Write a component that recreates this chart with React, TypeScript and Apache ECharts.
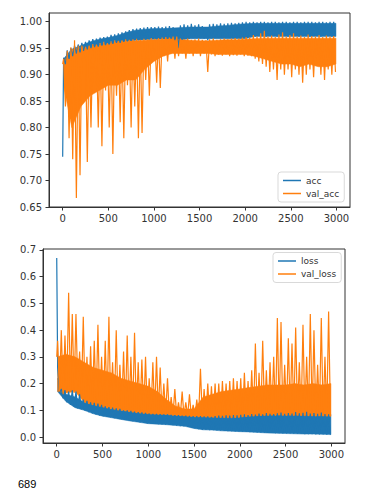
import React, { useEffect, useRef } from "react";
import * as echarts from "echarts";

// Epoch layout of the read samples: a peak at 40k+10 and a trough at 40k+30
const BIN = 40;
const xTicks = [0, 500, 1000, 1500, 2000, 2500, 3000];
const accTicks = [0.65, 0.7, 0.75, 0.8, 0.85, 0.9, 0.95, 1.0];
const lossTicks = [0, 0.1, 0.2, 0.3, 0.4, 0.5, 0.6, 0.7];
const footnote = "689";

// epochs at which the solid core of each noisy band was read
const coreEpochs = [
  10, 100, 200, 300, 400, 500, 600, 700, 800, 900,
  1000, 1100, 1200, 1300, 1400, 1500, 1600, 1700, 1800, 1900,
  2000, 2100, 2200, 2300, 2400, 2500, 2600, 2700, 2800, 2900, 2995,
];

// values at epoch 0
const accStart = 0.745;
const valAccStart = 0.92;
const lossStart = 0.67;
const valLossStart = 0.3;

// upper / lower excursions, one pair per 40-epoch bin
const accHi = [
  0.932, 0.946, 0.95, 0.955, 0.957, 0.96, 0.962, 0.965, 0.967, 0.968,
  0.97, 0.971, 0.972, 0.975, 0.976, 0.978, 0.98, 0.982, 0.984, 0.986,
  0.987, 0.988, 0.989, 0.99, 0.99, 0.99, 0.991, 0.99, 0.991, 0.992,
  0.99, 0.985, 0.993, 0.995, 0.993, 0.996, 0.993, 0.995, 0.992, 0.99,
  0.995, 0.996, 0.995, 0.997, 0.996, 0.997, 0.998, 0.997, 0.998, 0.999,
  1.0, 0.999, 1.0, 0.999, 1.0, 1.0, 0.999, 1.0, 1.0, 0.999,
  1.0, 1.0, 0.999, 1.0, 1.0, 0.999, 1.0, 1.0, 1.0, 0.999,
  1.0, 1.0, 0.999, 1.0, 1.0,
];
const accLo = [
  0.92, 0.93, 0.935, 0.94, 0.942, 0.945, 0.948, 0.95, 0.952, 0.953,
  0.955, 0.956, 0.957, 0.958, 0.96, 0.96, 0.962, 0.963, 0.964, 0.965,
  0.965, 0.966, 0.966, 0.967, 0.967, 0.967, 0.968, 0.968, 0.968, 0.968,
  0.965, 0.95, 0.966, 0.968, 0.968, 0.969, 0.969, 0.969, 0.968, 0.965,
  0.969, 0.97, 0.97, 0.97, 0.971, 0.971, 0.971, 0.972, 0.972, 0.972,
  0.972, 0.973, 0.972, 0.974, 0.973, 0.972, 0.974, 0.973, 0.972, 0.974,
  0.973, 0.972, 0.974, 0.973, 0.972, 0.974, 0.973, 0.972, 0.974, 0.973,
  0.972, 0.974, 0.973, 0.972, 0.974,
];
const valAccHi = [
  0.93, 0.945, 0.952, 0.965, 0.955, 0.955, 0.95, 0.955, 0.958, 0.957,
  0.96, 0.962, 0.96, 0.963, 0.965, 0.964, 0.965, 0.967, 0.966, 0.967,
  0.968, 0.966, 0.968, 0.967, 0.969, 0.968, 0.969, 0.97, 0.971, 0.97,
  0.972, 0.972, 0.968, 0.967, 0.968, 0.966, 0.967, 0.968, 0.966, 0.965,
  0.967, 0.968, 0.966, 0.967, 0.968, 0.967, 0.968, 0.969, 0.968, 0.97,
  0.971, 0.97, 0.975, 0.972, 0.978, 0.983, 0.972, 0.974, 0.971, 0.976,
  0.98, 0.972, 0.975, 0.978, 0.972, 0.974, 0.971, 0.976, 0.973, 0.972,
  0.975, 0.971, 0.974, 0.972, 0.973,
];
const valAccLo = [
  0.84, 0.78, 0.74, 0.667, 0.71, 0.93, 0.735, 0.8, 0.88, 0.8,
  0.765, 0.87, 0.8, 0.75, 0.86, 0.81, 0.78, 0.88, 0.8, 0.84,
  0.78, 0.79, 0.89, 0.86, 0.93, 0.885, 0.875, 0.935, 0.925, 0.94,
  0.93, 0.935, 0.94, 0.93, 0.94, 0.935, 0.94, 0.935, 0.94, 0.905,
  0.938, 0.935, 0.938, 0.936, 0.938, 0.935, 0.937, 0.936, 0.938, 0.935,
  0.936, 0.935, 0.93, 0.925, 0.92, 0.915, 0.905, 0.91, 0.89, 0.91,
  0.9, 0.91, 0.895, 0.91, 0.9, 0.885, 0.9, 0.91, 0.895, 0.92,
  0.9, 0.89, 0.91, 0.9, 0.905,
];
const lossHi = [
  0.26, 0.18, 0.175, 0.17, 0.175, 0.17, 0.16, 0.14, 0.135, 0.13,
  0.128, 0.125, 0.12, 0.115, 0.112, 0.11, 0.107, 0.105, 0.1, 0.1,
  0.098, 0.095, 0.093, 0.092, 0.09, 0.088, 0.087, 0.087, 0.086, 0.085,
  0.085, 0.083, 0.082, 0.082, 0.08, 0.08, 0.079, 0.078, 0.078, 0.078,
  0.077, 0.077, 0.076, 0.078, 0.08, 0.079, 0.081, 0.08, 0.082, 0.081,
  0.083, 0.085, 0.082, 0.086, 0.084, 0.088, 0.085, 0.09, 0.087, 0.086,
  0.089, 0.092, 0.087, 0.09, 0.088, 0.093, 0.089, 0.091, 0.094, 0.088,
  0.09, 0.087, 0.092, 0.086, 0.085,
];
const lossLo = [
  0.165, 0.145, 0.13, 0.12, 0.113, 0.107, 0.103, 0.098, 0.093, 0.088,
  0.084, 0.08, 0.078, 0.075, 0.073, 0.071, 0.069, 0.067, 0.064, 0.062,
  0.059, 0.057, 0.055, 0.053, 0.051, 0.05, 0.049, 0.048, 0.047, 0.046,
  0.045, 0.044, 0.043, 0.041, 0.04, 0.038, 0.035, 0.032, 0.029, 0.027,
  0.027, 0.026, 0.026, 0.025, 0.024, 0.023, 0.022, 0.022, 0.021, 0.021,
  0.02, 0.019, 0.018, 0.018, 0.017, 0.016, 0.016, 0.015, 0.015, 0.014,
  0.014, 0.013, 0.013, 0.013, 0.012, 0.012, 0.012, 0.011, 0.011, 0.011,
  0.01, 0.01, 0.01, 0.009, 0.009,
];
const valLossHi = [
  0.36, 0.4, 0.38, 0.54, 0.46, 0.46, 0.32, 0.45, 0.3, 0.34,
  0.36, 0.42, 0.3, 0.36, 0.45, 0.28, 0.4, 0.27, 0.32, 0.38,
  0.3, 0.39, 0.28, 0.29, 0.3, 0.22, 0.28, 0.3, 0.26, 0.2,
  0.22, 0.15, 0.18, 0.13, 0.17, 0.13, 0.16, 0.12, 0.14, 0.255,
  0.18, 0.2, 0.19, 0.2, 0.2, 0.21, 0.2, 0.21, 0.22, 0.21,
  0.22, 0.24, 0.21, 0.25, 0.35, 0.24, 0.36, 0.25, 0.28, 0.3,
  0.445, 0.43, 0.27, 0.37, 0.35, 0.41, 0.28, 0.42, 0.3, 0.46,
  0.4, 0.27, 0.445, 0.3, 0.47,
];
const valLossLo = [
  0.17, 0.16, 0.17, 0.17, 0.165, 0.18, 0.15, 0.13, 0.125, 0.12,
  0.118, 0.115, 0.112, 0.11, 0.105, 0.105, 0.1, 0.1, 0.097, 0.095,
  0.093, 0.09, 0.09, 0.088, 0.087, 0.085, 0.085, 0.084, 0.084, 0.083,
  0.083, 0.08, 0.08, 0.079, 0.079, 0.078, 0.077, 0.076, 0.075, 0.075,
  0.075, 0.074, 0.074, 0.073, 0.073, 0.073, 0.072, 0.072, 0.072, 0.073,
  0.075, 0.076, 0.078, 0.078, 0.08, 0.08, 0.081, 0.08, 0.082, 0.08,
  0.083, 0.081, 0.08, 0.082, 0.08, 0.083, 0.08, 0.082, 0.079, 0.08,
  0.078, 0.08, 0.079, 0.08, 0.078,
];

// solid core of each band (densely overlapping epochs), read at coreEpochs
const accCoreHi = [
  0.93, 0.948, 0.955, 0.962, 0.967, 0.97, 0.974, 0.98, 0.984, 0.986,
  0.987, 0.987, 0.988, 0.989, 0.99, 0.99, 0.99, 0.992, 0.993, 0.995,
  0.996, 0.997, 0.997, 0.997, 0.997, 0.997, 0.997, 0.997, 0.997, 0.997, 0.997,
];
const accCoreLo = [
  0.92, 0.935, 0.942, 0.95, 0.955, 0.957, 0.96, 0.963, 0.965, 0.966,
  0.967, 0.967, 0.967, 0.966, 0.968, 0.968, 0.968, 0.968, 0.968, 0.968,
  0.968, 0.972, 0.972, 0.972, 0.972, 0.972, 0.972, 0.972, 0.972, 0.972, 0.972,
];
const valAccCoreHi = [
  0.925, 0.948, 0.952, 0.953, 0.955, 0.958, 0.962, 0.963, 0.964, 0.965,
  0.966, 0.967, 0.968, 0.966, 0.965, 0.964, 0.964, 0.965, 0.966, 0.966,
  0.967, 0.968, 0.969, 0.969, 0.969, 0.969, 0.969, 0.969, 0.969, 0.969, 0.969,
];
const valAccCoreLo = [
  0.88, 0.8, 0.84, 0.86, 0.87, 0.88, 0.88, 0.89, 0.89, 0.91,
  0.925, 0.935, 0.94, 0.94, 0.94, 0.94, 0.94, 0.938, 0.938, 0.938,
  0.938, 0.935, 0.93, 0.925, 0.92, 0.92, 0.915, 0.92, 0.915, 0.915, 0.92,
];
const lossCoreHi = [
  0.22, 0.16, 0.15, 0.13, 0.125, 0.115, 0.108, 0.1, 0.097, 0.093,
  0.09, 0.087, 0.085, 0.083, 0.08, 0.078, 0.077, 0.077, 0.078, 0.079,
  0.08, 0.082, 0.084, 0.085, 0.086, 0.087, 0.087, 0.087, 0.087, 0.086, 0.085,
];
const lossCoreLo = [
  0.17, 0.133, 0.11, 0.1, 0.087, 0.078, 0.072, 0.066, 0.06, 0.055,
  0.05, 0.048, 0.046, 0.043, 0.04, 0.032, 0.027, 0.026, 0.023, 0.022,
  0.02, 0.019, 0.017, 0.015, 0.014, 0.013, 0.012, 0.011, 0.011, 0.01, 0.009,
];
const valLossCoreHi = [
  0.3, 0.31, 0.3, 0.28, 0.26, 0.25, 0.24, 0.22, 0.21, 0.2,
  0.19, 0.17, 0.14, 0.115, 0.105, 0.105, 0.15, 0.16, 0.17, 0.175,
  0.18, 0.185, 0.19, 0.195, 0.195, 0.195, 0.2, 0.195, 0.2, 0.195, 0.2,
];
const valLossCoreLo = [
  0.17, 0.165, 0.17, 0.13, 0.12, 0.112, 0.105, 0.1, 0.095, 0.09,
  0.087, 0.085, 0.084, 0.081, 0.079, 0.076, 0.075, 0.074, 0.073, 0.072,
  0.074, 0.078, 0.08, 0.081, 0.082, 0.081, 0.081, 0.08, 0.079, 0.079, 0.078,
];

const BLUE = "#1f77b4";
const ORANGE = "#ff7f0e";
const AXIS = "#333333";
const FONT = "DejaVu Sans";

function build(start: number, hi: number[], lo: number[]) {
  const out: number[][] = [[0, start]];
  hi.forEach((h, k) => {
    out.push([k * BIN + 10, h]);
    out.push([k * BIN + 30, lo[k]]);
  });
  return out;
}

function xAxisFor(gridIndex: number) {
  return {
    type: "value",
    gridIndex,
    min: -150,
    max: 3149,
    splitLine: { show: false },
    axisLine: { show: true, onZero: false, lineStyle: { color: AXIS, width: 1 } },
    axisTick: { show: true, length: 3.5, customValues: xTicks, lineStyle: { color: AXIS } },
    axisLabel: {
      customValues: xTicks,
      margin: 6,
      fontSize: 10,
      fontFamily: FONT,
      color: AXIS,
      formatter: (v: number) => String(v),
    },
  };
}

function yAxisFor(gridIndex: number, min: number, max: number, ticks: number[], digits: number) {
  return {
    type: "value",
    gridIndex,
    min,
    max,
    splitLine: { show: false },
    axisLine: { show: true, onZero: false, lineStyle: { color: AXIS, width: 1 } },
    axisTick: { show: true, length: 3.5, customValues: ticks, lineStyle: { color: AXIS } },
    axisLabel: {
      customValues: ticks,
      margin: 7,
      fontSize: 10,
      fontFamily: FONT,
      color: AXIS,
      formatter: (v: number) => v.toFixed(digits),
    },
  };
}

function lineSeries(name: string, color: string, idx: number, data: number[][]) {
  return {
    name,
    type: "line",
    xAxisIndex: idx,
    yAxisIndex: idx,
    data,
    showSymbol: false,
    symbol: "none",
    lineStyle: { color, width: 1.2 },
    itemStyle: { color },
    emphasis: { disabled: true },
    silent: true,
  };
}

// filled core of a noisy band, placed through the axes with api.coord
function bandSeries(name: string, color: string, idx: number, hi: number[], lo: number[]) {
  const rows = coreEpochs.map((e, i) => [e, lo[i], hi[i]]);
  return {
    name,
    type: "custom",
    xAxisIndex: idx,
    yAxisIndex: idx,
    coordinateSystem: "cartesian2d",
    silent: true,
    data: rows,
    encode: { x: 0, y: [1, 2] },
    renderItem: (params: any, api: any) => {
      if (params.dataIndex !== 0) return null;
      const top = rows.map((r) => api.coord([r[0], r[2]]));
      const bottom = rows.map((r) => api.coord([r[0], r[1]])).reverse();
      return {
        type: "polygon",
        shape: { points: top.concat(bottom) },
        style: { fill: color, stroke: color, lineWidth: 0.5 },
      };
    },
  };
}

function legendAt(left: number, top: number, names: string[]) {
  return {
    data: names,
    orient: "vertical",
    left,
    top,
    padding: [3, 5, 3, 5],
    itemWidth: 18,
    itemHeight: 1.5,
    itemGap: 2,
    icon: "rect",
    backgroundColor: "#ffffff",
    borderColor: "#d9d9d9",
    borderWidth: 1,
    borderRadius: 3,
    selectedMode: false,
    textStyle: { fontSize: 9, fontFamily: FONT, color: AXIS, lineHeight: 11 },
  };
}

export default function App() {
  const ref = useRef<HTMLDivElement>(null);
  useEffect(() => {
    if (!ref.current) return;
    const chart = echarts.init(ref.current, undefined, { renderer: "svg" });
    chart.setOption({
      animation: false,
      backgroundColor: "#ffffff",
      grid: [
        { left: 49, top: 13, width: 301, height: 194, show: true, borderColor: AXIS, borderWidth: 1, backgroundColor: "transparent" },
        { left: 43, top: 249, width: 302, height: 194, show: true, borderColor: AXIS, borderWidth: 1, backgroundColor: "transparent" },
      ],
      xAxis: [xAxisFor(0), xAxisFor(1)],
      yAxis: [
        yAxisFor(0, 0.65, 1.0165, accTicks, 2),
        yAxisFor(1, -0.0224, 0.7037, lossTicks, 1),
      ],
      legend: [
        legendAt(278, 172, ["acc", "val_acc"]),
        legendAt(273, 252.5, ["loss", "val_loss"]),
      ],
      series: [
        bandSeries("acc core", BLUE, 0, accCoreHi, accCoreLo),
        lineSeries("acc", BLUE, 0, build(accStart, accHi, accLo)),
        bandSeries("val_acc core", ORANGE, 0, valAccCoreHi, valAccCoreLo),
        lineSeries("val_acc", ORANGE, 0, build(valAccStart, valAccHi, valAccLo)),
        bandSeries("loss core", BLUE, 1, lossCoreHi, lossCoreLo),
        lineSeries("loss", BLUE, 1, build(lossStart, lossHi, lossLo)),
        bandSeries("val_loss core", ORANGE, 1, valLossCoreHi, valLossCoreLo),
        lineSeries("val_loss", ORANGE, 1, build(valLossStart, valLossHi, valLossLo)),
      ],
      graphic: [
        {
          type: "text",
          left: 18,
          top: 478,
          style: { text: footnote, fontSize: 11, fontFamily: "Liberation Sans", fill: "#000000" },
        },
      ],
    });
    return () => chart.dispose();
  }, []);
  return (
    <div
      ref={ref}
      style={{ position: "fixed", left: 0, top: 0, width: 380, height: 497 }}
    />
  );
}
